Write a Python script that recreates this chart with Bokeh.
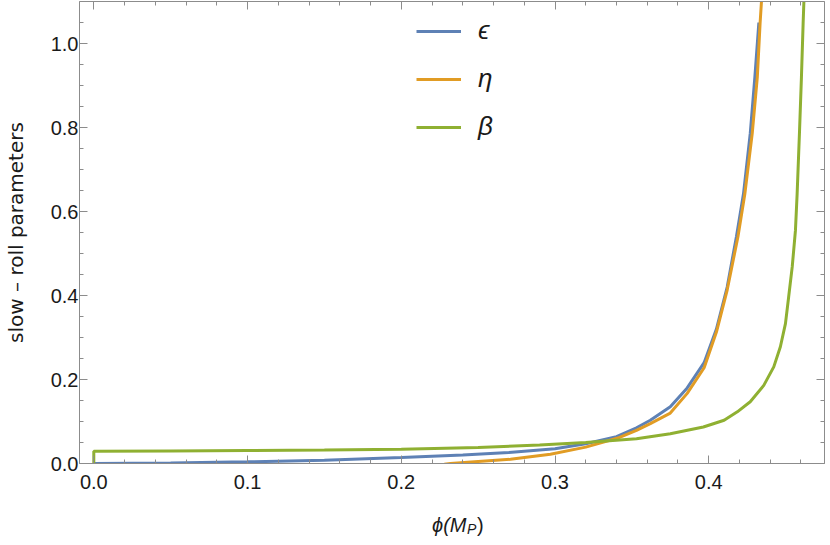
from bokeh.plotting import figure
from bokeh.layouts import column
from bokeh.models import (Range1d, LinearAxis, Legend, LegendItem, Label,
                          SingleIntervalTicker, NumeralTickFormatter,
                          CustomLabelingPolicy)
from bokeh.core.properties import value
from bokeh.embed import file_html
from bokeh.resources import INLINE

# ---- data ----
eps_x = [0.000, 0.050, 0.100, 0.150, 0.200, 0.240, 0.270, 0.300, 0.320, 0.340,
         0.353, 0.362, 0.375, 0.386, 0.397, 0.405, 0.412, 0.418, 0.4226, 0.427,
         0.430, 0.4326]
eps_y = [0.000, 0.001, 0.004, 0.008, 0.014, 0.020, 0.026, 0.035, 0.047, 0.064,
         0.085, 0.103, 0.135, 0.180, 0.240, 0.320, 0.420, 0.540, 0.642, 0.786,
         0.920, 1.050]

eta_x = [0.228, 0.232, 0.250, 0.271, 0.297, 0.320, 0.342, 0.353, 0.362, 0.375,
         0.386, 0.397, 0.405, 0.412, 0.419, 0.4235, 0.4283, 0.4316, 0.4334, 0.4343]
eta_y = [-0.002, 0.000, 0.005, 0.010, 0.022, 0.039, 0.062, 0.079, 0.095, 0.120,
         0.167, 0.228, 0.313, 0.413, 0.540, 0.642, 0.786, 0.920, 1.048, 1.100]

beta_x = [0.000, 0.000, 0.050, 0.100, 0.150, 0.200, 0.250, 0.290, 0.320, 0.353,
          0.375, 0.3965, 0.410, 0.4186, 0.427, 0.4358, 0.4423, 0.4466, 0.4499,
          0.452, 0.4543, 0.4564, 0.4575, 0.459, 0.4603, 0.4614, 0.4619]
beta_y = [0.000, 0.029, 0.030, 0.031, 0.032, 0.034, 0.038, 0.044, 0.050, 0.059,
          0.071, 0.087, 0.103, 0.123, 0.147, 0.186, 0.230, 0.278, 0.333,
          0.397, 0.468, 0.555, 0.642, 0.786, 0.920, 1.048, 1.100]

series_labels = ["ϵ", "η", "β"]
series_colors = ["#5E81B5", "#E19C24", "#8FB032"]
y_axis_title = "slow – roll parameters"
x_axis_title_parts = ["ϕ(M", "P", ")"]

FRAME = "#8c8c8c"
TXT = "#1a1a1a"
FONT = "Liberation Sans"

p = figure(frame_width=745, frame_height=462,
           x_range=Range1d(-0.0093, 0.4753), y_range=Range1d(0, 1.1),
           output_backend="svg", toolbar_location=None,
           min_border_left=75, min_border_right=2, min_border_top=1,
           min_border_bottom=36, x_axis_location=None, y_axis_location=None)
p.xgrid.visible = False
p.ygrid.visible = False
p.outline_line_color = None
p.background_fill_color = "white"
p.border_fill_color = "white"

hide_all = CustomLabelingPolicy(code="""
    for (const i of indices) { indices.unset(i) }
    return indices
""")


def style_axis(ax, show_labels):
    ax.axis_line_color = FRAME
    ax.axis_line_width = 1
    ax.major_tick_line_color = FRAME
    ax.minor_tick_line_color = FRAME
    ax.major_tick_in = 8
    ax.major_tick_out = 0
    ax.minor_tick_in = 4
    ax.minor_tick_out = 0
    if show_labels:
        ax.major_label_text_font = FONT
        ax.major_label_text_font_size = "20px"
        ax.major_label_text_color = TXT
    else:
        ax.major_label_policy = hide_all
        ax.major_label_text_font_size = "0px"
        ax.major_label_standoff = 0


def xticker():
    return SingleIntervalTicker(interval=0.1, num_minor_ticks=5)


def yticker():
    return SingleIntervalTicker(interval=0.2, num_minor_ticks=4)


bottom = LinearAxis(ticker=xticker(), formatter=NumeralTickFormatter(format="0.0"))
style_axis(bottom, True)
bottom.major_label_standoff = 11
p.add_layout(bottom, "below")

top = LinearAxis(ticker=xticker())
style_axis(top, False)
p.add_layout(top, "above")

left = LinearAxis(ticker=yticker(), formatter=NumeralTickFormatter(format="0.0"))
style_axis(left, True)
left.major_label_standoff = 1
left.axis_label = y_axis_title
left.axis_label_text_font = "DejaVu Sans"
left.axis_label_text_font_style = "normal"
left.axis_label_text_font_size = "20px"
left.axis_label_text_color = TXT
left.axis_label_standoff = 20
p.add_layout(left, "left")

right = LinearAxis(ticker=yticker())
style_axis(right, False)
p.add_layout(right, "right")

r_eps = p.line(eps_x, eps_y, line_color=series_colors[0], line_width=3)
r_eta = p.line(eta_x, eta_y, line_color=series_colors[1], line_width=3)
r_beta = p.line(beta_x, beta_y, line_color=series_colors[2], line_width=3)

legend = Legend(items=[LegendItem(label=value(series_labels[0]), renderers=[r_eps]),
                       LegendItem(label=value(series_labels[1]), renderers=[r_eta]),
                       LegendItem(label=value(series_labels[2]), renderers=[r_beta])],
                location=(337, 321), orientation="vertical",
                glyph_width=45, glyph_height=30, label_height=30,
                spacing=17, padding=0, margin=0, label_standoff=17,
                border_line_color=None, background_fill_alpha=0,
                label_text_font=FONT, label_text_font_style="italic",
                label_text_font_size="26px", label_text_color=TXT)
p.add_layout(legend)

# strip below the plot carrying the x-axis title phi(M_P)
p2 = figure(frame_width=745, frame_height=38, x_range=p.x_range,
            y_range=Range1d(0, 1), output_backend="svg", toolbar_location=None,
            min_border_left=75, min_border_right=2, min_border_top=0,
            min_border_bottom=0, x_axis_location=None, y_axis_location=None)
p2.xgrid.visible = False
p2.ygrid.visible = False
p2.outline_line_color = None
p2.background_fill_color = "white"
p2.border_fill_color = "white"

p2.add_layout(Label(x=0.2424, y=0.32, text=x_axis_title_parts[0],
                    text_align="right", text_baseline="middle",
                    text_font=FONT, text_font_style="italic",
                    text_font_size="20px", text_color=TXT))
p2.add_layout(Label(x=0.2428, y=0.235, text=x_axis_title_parts[1],
                    text_align="left", text_baseline="middle",
                    text_font=FONT, text_font_style="italic",
                    text_font_size="14px", text_color=TXT))
p2.add_layout(Label(x=0.2493, y=0.32, text=x_axis_title_parts[2],
                    text_align="left", text_baseline="middle",
                    text_font=FONT, text_font_style="normal",
                    text_font_size="20px", text_color=TXT))

layout = column(p, p2, spacing=0)
open("out.html", "w").write(file_html(layout, INLINE))
